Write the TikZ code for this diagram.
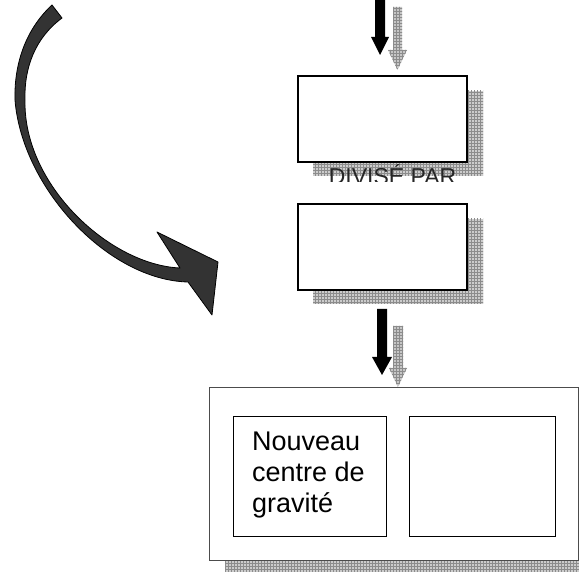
\documentclass[tikz,border=0pt]{standalone}
\usepackage{fontspec}
\setmainfont{Liberation Sans}
\usetikzlibrary{patterns}
\begin{document}
\begin{tikzpicture}[x=1pt,y=-1pt,
  shadowfill/.style={fill=gray!40, postaction={pattern=grid, pattern color=gray!90}},
  whitebox/.style={draw=black, line width=1.8pt, fill=white},
  innerbox/.style={draw=black, line width=1.3pt, fill=white},
  outerbox/.style={draw=gray!60!black, line width=0.9pt, fill=white},
  blackarrow/.style={fill=black},
  grayarrow/.style={fill=gray!45, postaction={pattern=grid, pattern color=gray!90}},
  curvearrow/.style={fill=black!80, draw=black, line width=0.8pt, line join=round}
]
\useasboundingbox (0,0) rectangle (579,572);

% ---------- top arrows ----------
\fill[grayarrow] (393,7) -- (402,7) -- (402,50) -- (407,50) -- (397.5,70) -- (388,50) -- (393,50) -- cycle;
\fill[blackarrow] (375,0) -- (385,0) -- (385,37) -- (389,37) -- (380,55) -- (371,37) -- (375,37) -- cycle;

% ---------- box 1 ----------
\fill[shadowfill] (313,91) rectangle (483,176);
\node[whitebox, minimum width=169pt, minimum height=86pt, inner sep=0pt, anchor=north west] (b1) at (297,75) {};

% clipped label
\begin{scope}
  \clip (300,162) rectangle (470,181.5);
  \node[font=\fontsize{23}{23}\selectfont, text=black!85, anchor=base, inner sep=0pt] (lbl) at (392.5,185) {DIVISÉ PAR};
\end{scope}

% ---------- box 2 ----------
\fill[shadowfill] (313,219) rectangle (483,304);
\node[whitebox, minimum width=169pt, minimum height=86pt, inner sep=0pt, anchor=north west] (b2) at (297,203) {};

% ---------- middle arrows ----------
\fill[grayarrow] (393,326) -- (403,326) -- (403,368) -- (407,368) -- (398,387) -- (389,368) -- (393,368) -- cycle;
\fill[blackarrow] (377,309) -- (387,309) -- (387,357) -- (392,357) -- (382,375) -- (372,357) -- (377,357) -- cycle;

% ---------- big box ----------
\fill[shadowfill] (225,560) rectangle (579,572);
\node[outerbox, minimum width=369pt, minimum height=173pt, inner sep=0pt, anchor=north west] (big) at (209,387) {};

\node[innerbox, minimum width=153pt, minimum height=120pt, inner sep=0pt, anchor=north west] (in1) at (233,416) {};
\node[innerbox, minimum width=146pt, minimum height=120pt, inner sep=0pt, anchor=north west] (in2) at (409,416) {};

\node[font=\fontsize{27}{31}\selectfont, align=left, anchor=north west, inner sep=0pt] (txt) at (252,432)
  {Nouveau\\centre de\\gravité};

% ---------- curved arrow ----------
\path[curvearrow]
  (52,5) -- (62,18)
  .. controls (35,38) and (24,68) .. (25,100)
  .. controls (23,185) and (110,265) .. (180,268)
  -- (157,232) -- (218,262) -- (212,315) -- (188,282)
  .. controls (108,280) and (22,188) .. (15,100)
  .. controls (14,65) and (25,30) .. (52,5)
  -- cycle;

\end{tikzpicture}
\end{document}
